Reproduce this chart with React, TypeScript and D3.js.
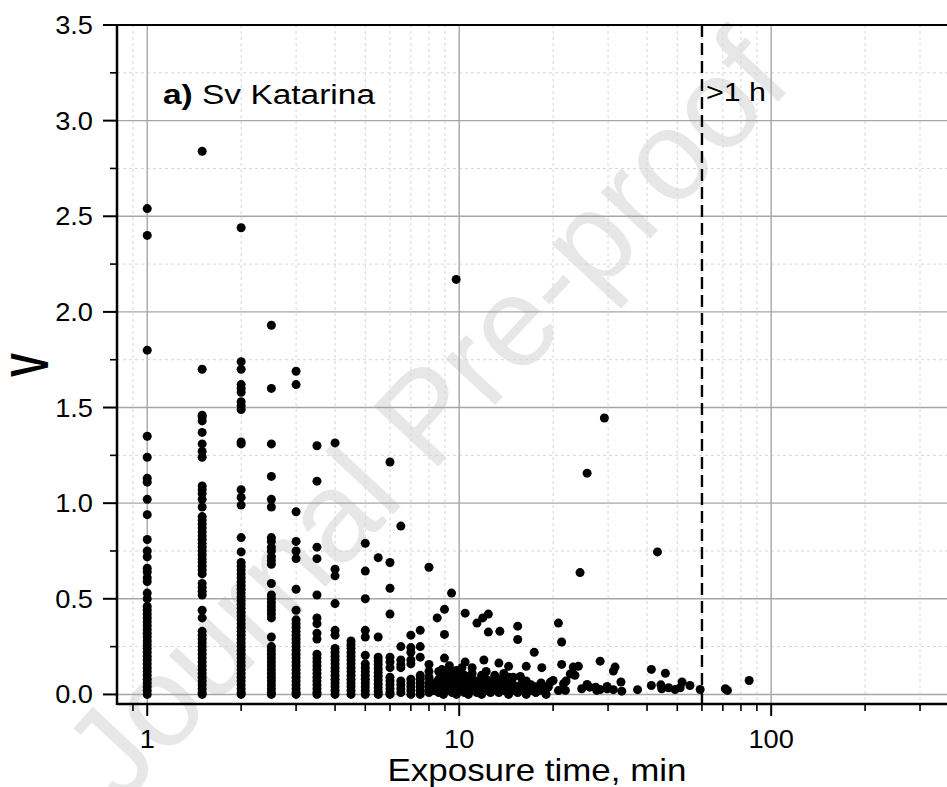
import React from "react";
import * as d3 from "d3";

// ---------- DATA ----------
const columnX = [1, 1.5, 2, 2.5, 3, 3.5, 4, 4.5, 5, 5.5, 6, 6.5, 7, 7.5, 8];

const v1 = [2.54, 2.40, 1.80, 1.35, 1.24, 1.13, 1.11, 1.02, 0.94, 0.81, 0.75, 0.72, 0.66, 0.64, 0.61, 0.59, 0.53, 0.50, 0.46, 0.44, 0.42, 0.40, 0.38, 0.36, 0.34, 0.32, 0.30, 0.28, 0.26, 0.24, 0.22, 0.20, 0.18, 0.16, 0.14, 0.12, 0.10, 0.08, 0.06, 0.04, 0.02, 0.0];
const v1_5 = [2.84, 1.70, 1.46, 1.45, 1.43, 1.37, 1.31, 1.27, 1.24, 1.09, 1.07, 1.05, 1.02, 0.98, 0.93, 0.91, 0.89, 0.87, 0.85, 0.83, 0.81, 0.79, 0.77, 0.75, 0.73, 0.71, 0.69, 0.67, 0.65, 0.63, 0.58, 0.56, 0.54, 0.52, 0.44, 0.40, 0.33, 0.31, 0.29, 0.27, 0.25, 0.23, 0.21, 0.19, 0.17, 0.15, 0.13, 0.11, 0.09, 0.07, 0.05, 0.03, 0.01, 0.0];
const v2 = [2.44, 1.74, 1.70, 1.62, 1.60, 1.58, 1.53, 1.51, 1.49, 1.32, 1.31, 1.07, 1.03, 0.99, 0.82, 0.745, 0.69, 0.67, 0.65, 0.63, 0.61, 0.59, 0.57, 0.55, 0.53, 0.51, 0.49, 0.47, 0.45, 0.43, 0.41, 0.39, 0.37, 0.35, 0.33, 0.31, 0.29, 0.27, 0.25, 0.23, 0.21, 0.19, 0.17, 0.15, 0.13, 0.11, 0.09, 0.07, 0.05, 0.03, 0.01, 0.0];
const v2_5 = [1.93, 1.60, 1.31, 1.14, 1.02, 0.98, 0.82, 0.80, 0.77, 0.75, 0.72, 0.70, 0.68, 0.58, 0.52, 0.50, 0.48, 0.46, 0.44, 0.42, 0.40, 0.30, 0.25, 0.23, 0.21, 0.19, 0.17, 0.15, 0.13, 0.11, 0.09, 0.07, 0.05, 0.03, 0.01, 0.0];
const v3 = [1.69, 1.62, 0.955, 0.80, 0.75, 0.71, 0.55, 0.44, 0.39, 0.37, 0.35, 0.33, 0.31, 0.29, 0.27, 0.25, 0.23, 0.21, 0.19, 0.17, 0.15, 0.13, 0.11, 0.09, 0.07, 0.05, 0.03, 0.01, 0.0];
const v3_5 = [1.30, 1.115, 0.77, 0.71, 0.52, 0.40, 0.37, 0.32, 0.29, 0.21, 0.19, 0.17, 0.15, 0.13, 0.11, 0.09, 0.07, 0.05, 0.03, 0.01, 0.0];
const v4 = [1.315, 0.655, 0.62, 0.475, 0.335, 0.31, 0.24, 0.22, 0.20, 0.18, 0.16, 0.14, 0.12, 0.10, 0.08, 0.06, 0.04, 0.02, 0.0];
const v4_5 = [0.28, 0.26, 0.24, 0.22, 0.20, 0.18, 0.16, 0.14, 0.12, 0.10, 0.08, 0.06, 0.04, 0.02, 0.0];
const v5 = [0.79, 0.645, 0.50, 0.335, 0.30, 0.205, 0.16, 0.14, 0.12, 0.10, 0.08, 0.06, 0.04, 0.02, 0.0];
const v5_5 = [0.715, 0.30, 0.195, 0.175, 0.155, 0.135, 0.115, 0.095, 0.075, 0.055, 0.035, 0.015, 0.0];
const v6 = [1.215, 0.69, 0.555, 0.42, 0.195, 0.17, 0.14, 0.09, 0.07, 0.05, 0.03, 0.01, 0.0];
const v6_5 = [0.88, 0.25, 0.18, 0.155, 0.14, 0.07, 0.05, 0.03, 0.01];
const v7 = [0.31, 0.245, 0.22, 0.18, 0.16, 0.08, 0.06, 0.04, 0.02, 0.0];
const v7_5 = [0.335, 0.25, 0.195, 0.10, 0.08, 0.06, 0.04, 0.02, 0.0];
const v8 = [0.665, 0.157, 0.12, 0.09, 0.06, 0.04, 0.02, 0.01];

const columnValues = [v1, v1_5, v2, v2_5, v3, v3_5, v4, v4_5, v5, v5_5, v6, v6_5, v7, v7_5, v8];

// scattered points [exposure time (min), V]
const scatterPoints: [number, number][] = [
  [9.78, 2.17], [29.2, 1.445], [25.7, 1.157], [43.2, 0.745], [24.4, 0.637],
  [9.45, 0.53], [8.97, 0.445], [8.5, 0.40], [8.97, 0.314], [8.97, 0.19],
  [10.45, 0.425], [11.4, 0.373], [11.9, 0.40], [12.4, 0.42], [12.4, 0.326],
  [13.5, 0.33], [15.4, 0.357], [15.4, 0.287], [17.4, 0.22], [20.8, 0.373],
  [21.3, 0.274], [21.3, 0.157], [28.3, 0.174],
  [12.0, 0.18], [10.45, 0.169], [11.0, 0.14], [13.4, 0.164], [14.4, 0.147],
  [16.4, 0.147], [18.4, 0.14], [24.1, 0.147], [23.2, 0.143], [23.5, 0.10],
  [22.7, 0.107], [31.6, 0.143], [31.2, 0.122], [41.3, 0.131], [45.8, 0.111],
  [9.3, 0.15], [8.8, 0.13], [10.2, 0.14],
  [20.0, 0.073], [19.1, 0.042], [21.6, 0.056], [21.9, 0.021], [22.0, 0.07],
  [20.8, 0.02], [24.7, 0.03], [25.7, 0.052], [26.2, 0.038], [27.4, 0.038],
  [27.6, 0.021], [28.3, 0.026], [29.8, 0.042], [29.8, 0.03], [31.2, 0.025],
  [33.0, 0.065], [33.2, 0.017], [37.3, 0.025], [41.3, 0.047], [44.3, 0.05],
  [44.6, 0.03], [46.9, 0.035], [49.2, 0.026], [51.1, 0.035], [51.8, 0.065],
  [54.9, 0.047], [59.2, 0.026], [71.3, 0.03], [72.4, 0.021], [85, 0.073],
  [19.6, 0.064], [19.3, 0.038], [17.7, 0.025], [15.7, 0.038], [15.7, 0.094],
  [14.4, 0.09],
];

// dense cluster of short exposures near zero
const clusterPoints: [number, number][] = [
  [8.3, 0.02], [8.3, 0.06],
  [8.6, 0.01], [8.6, 0.04], [8.6, 0.08], [8.6, 0.12],
  [8.9, 0.0], [8.9, 0.03], [8.9, 0.06], [8.9, 0.10],
  [9.2, 0.02], [9.2, 0.05], [9.2, 0.09], [9.2, 0.13],
  [9.5, 0.01], [9.5, 0.04], [9.5, 0.07], [9.5, 0.11],
  [9.8, 0.0], [9.8, 0.03], [9.8, 0.06], [9.8, 0.09], [9.8, 0.125],
  [10.1, 0.02], [10.1, 0.05], [10.1, 0.08], [10.1, 0.11],
  [10.4, 0.01], [10.4, 0.04], [10.4, 0.07], [10.4, 0.10],
  [10.7, 0.0], [10.7, 0.03], [10.7, 0.06], [10.7, 0.09],
  [11.0, 0.02], [11.0, 0.05], [11.0, 0.08], [11.0, 0.11],
  [11.4, 0.01], [11.4, 0.04], [11.4, 0.07],
  [11.8, 0.0], [11.8, 0.03], [11.8, 0.06], [11.8, 0.10],
  [12.2, 0.02], [12.2, 0.05], [12.2, 0.08], [12.2, 0.12],
  [12.6, 0.01], [12.6, 0.04], [12.6, 0.07],
  [13.0, 0.03], [13.0, 0.06], [13.0, 0.10],
  [13.4, 0.01], [13.4, 0.05], [13.4, 0.08],
  [13.9, 0.02], [13.9, 0.04], [13.9, 0.07], [13.9, 0.11],
  [14.4, 0.0], [14.4, 0.03], [14.4, 0.06],
  [14.9, 0.02], [14.9, 0.05], [14.9, 0.09],
  [15.4, 0.01], [15.4, 0.04],
  [15.9, 0.02], [15.9, 0.06],
  [16.4, 0.0], [16.4, 0.03], [16.4, 0.07],
  [17.0, 0.02], [17.0, 0.05],
  [17.6, 0.01], [17.6, 0.04],
  [18.3, 0.02], [18.3, 0.06],
  [19.0, 0.0], [19.0, 0.03],
];

const xMajorTicks = [1, 10, 100];
const xMinorTicks = [0.9, 2, 3, 4, 5, 6, 7, 8, 9, 20, 30, 40, 50, 60, 70, 80, 90, 200, 300];
const yMajorTicks = [0, 0.5, 1.0, 1.5, 2.0, 2.5, 3.0, 3.5];
const yMinorTicks = [0.25, 0.75, 1.25, 1.75, 2.25, 2.75, 3.25];
const oneHourMin = 60;

// ---------- LAYOUT ----------
const W = 947;
const H = 787;
const L = 117, T = 25, R = 959, B = 704;
const FONT = "'Liberation Sans', Arial, Helvetica, sans-serif";

export default function App() {
  const x = d3.scaleLog().domain([0.8, 400]).range([L, R]);
  const y = d3.scaleLinear().domain([-0.05, 3.5]).range([B, T]);

  const points: [number, number][] = [];
  columnX.forEach((cx, i) => columnValues[i].forEach((v) => points.push([cx, v])));
  scatterPoints.forEach((p) => points.push(p));
  clusterPoints.forEach((p) => points.push(p));

  const fmtY = d3.format(".1f");

  return (
    <svg width={W} height={H} style={{ position: "absolute", left: 0, top: 0, background: "#fff" }} fontFamily={FONT}>
      <defs>
        <clipPath id="plotClip">
          <rect x={L} y={T} width={R - L} height={B - T} />
        </clipPath>
      </defs>
      <rect x={0} y={0} width={W} height={H} fill="#fff" />

      {/* watermark */}
      <text
        transform="translate(425,415) rotate(-47)"
        textAnchor="middle"
        dominantBaseline="central"
        fontSize={128}
        fill="#e7e7e7"
      >
        Journal Pre-proof
      </text>

      {/* minor grid */}
      <g clipPath="url(#plotClip)">
        {xMinorTicks.map((t) => (
          <line key={"xm" + t} x1={x(t)} x2={x(t)} y1={T} y2={B} stroke="#d6d6d6" strokeWidth={1} strokeDasharray="3,3" />
        ))}
        {yMinorTicks.map((t) => (
          <line key={"ym" + t} x1={L} x2={R} y1={y(t)} y2={y(t)} stroke="#d6d6d6" strokeWidth={1} strokeDasharray="3,3" />
        ))}
        {xMajorTicks.map((t) => (
          <line key={"xM" + t} x1={x(t)} x2={x(t)} y1={T} y2={B} stroke="#a6a6a6" strokeWidth={1.4} />
        ))}
        {yMajorTicks.filter((t) => t < 3.5).map((t) => (
          <line key={"yM" + t} x1={L} x2={R} y1={y(t)} y2={y(t)} stroke="#a6a6a6" strokeWidth={1.4} />
        ))}
      </g>

      {/* 1 h line */}
      <line x1={x(oneHourMin)} x2={x(oneHourMin)} y1={T} y2={B} stroke="#000" strokeWidth={2.4} strokeDasharray="12,6" />

      {/* points */}
      <g clipPath="url(#plotClip)">
        {points.map((p, i) => (
          <circle key={i} cx={x(p[0])} cy={y(p[1])} r={4.5} fill="#000" />
        ))}
      </g>

      {/* axes */}
      <line x1={L} x2={W} y1={T} y2={T} stroke="#000" strokeWidth={2} />
      <line x1={L} x2={W} y1={B} y2={B} stroke="#000" strokeWidth={2.5} />
      <line x1={L} x2={L} y1={T - 1} y2={B + 1} stroke="#000" strokeWidth={2.5} />

      {xMajorTicks.map((t) => (
        <line key={"xt" + t} x1={x(t)} x2={x(t)} y1={B} y2={B + 12} stroke="#000" strokeWidth={2} />
      ))}
      {xMinorTicks.map((t) => (
        <line key={"xmt" + t} x1={x(t)} x2={x(t)} y1={B} y2={B + 7} stroke="#000" strokeWidth={1.6} />
      ))}
      {yMajorTicks.map((t) => (
        <line key={"yt" + t} x1={L - 14} x2={L} y1={y(t)} y2={y(t)} stroke="#000" strokeWidth={2} />
      ))}
      {yMinorTicks.map((t) => (
        <line key={"ymt" + t} x1={L - 7} x2={L} y1={y(t)} y2={y(t)} stroke="#000" strokeWidth={1.6} />
      ))}

      {/* tick labels */}
      {xMajorTicks.map((t) => (
        <text key={"xl" + t} transform={`translate(${x(t)},748) scale(1.09,1)`} textAnchor="middle" fontSize={25} fill="#000">
          {String(t)}
        </text>
      ))}
      {yMajorTicks.map((t) => (
        <text key={"yl" + t} transform={`translate(93,${y(t) + 9}) scale(1.09,1)`} textAnchor="end" fontSize={25} fill="#000">
          {fmtY(t)}
        </text>
      ))}

      {/* axis titles */}
      <text x={537} y={781} textAnchor="middle" fontSize={32} textLength={299} lengthAdjust="spacingAndGlyphs" fill="#000">
        Exposure time, min
      </text>
      <text transform="translate(29,365) rotate(-90) scale(1,1.47)" x={0} y={12.9} textAnchor="middle" fontSize={36} fontWeight="bold" fill="#000">
        V
      </text>

      {/* annotations */}
      <text x={163} y={104} fontSize={27} fill="#000" textLength={212} lengthAdjust="spacingAndGlyphs">
        <tspan fontWeight="bold">a)</tspan> Sv Katarina
      </text>
      <text x={706} y={101} fontSize={26} fill="#000" textLength={60} lengthAdjust="spacingAndGlyphs">
        &gt;1 h
      </text>
    </svg>
  );
}
